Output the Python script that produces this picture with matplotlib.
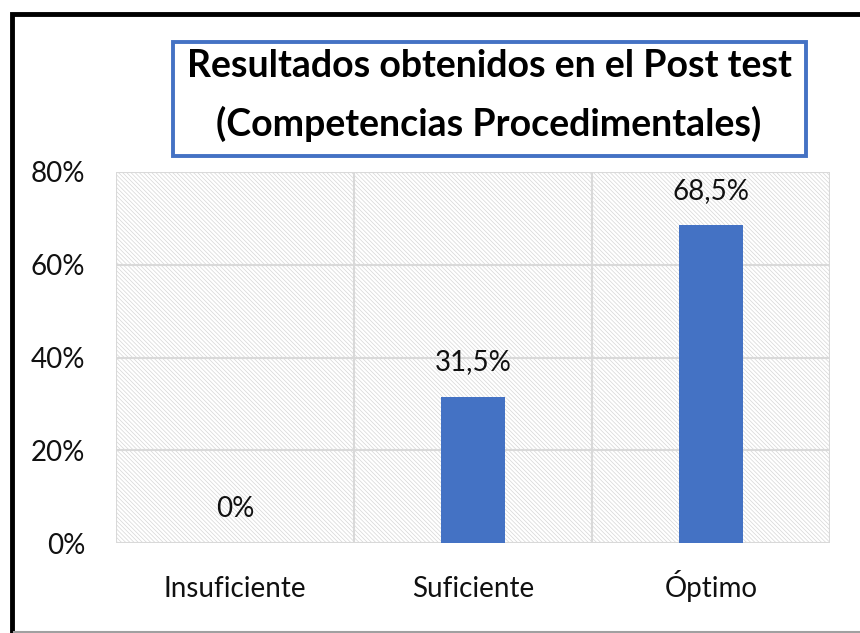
import matplotlib
matplotlib.use("Agg")
import matplotlib.pyplot as plt
from matplotlib.patches import Rectangle
import numpy as np

categories = ["Insuficiente", "Suficiente", "Óptimo"]
values = [0.0, 31.5, 68.5]
labels = ["0%", "31,5%", "68,5%"]
yticks = [0, 20, 40, 60, 80]
ytick_labels = ["0%", "20%", "40%", "60%", "80%"]
title_lines = ["Resultados obtenidos en el Post test", "(Competencias Procedimentales)"]

plt.rcParams['font.family'] = ['Lato', 'DejaVu Sans']
plt.rcParams['hatch.linewidth'] = 0.5

fig = plt.figure(figsize=(8.6, 6.33), dpi=100)
W, H = 860, 633

# outer black frame (left/top)
fig.add_artist(Rectangle((12/W, -0.1), 1.2, 1 - 14/H + 0.1, transform=fig.transFigure,
                         fill=False, edgecolor='black', linewidth=3.5))
fig.add_artist(plt.Line2D([14/W, 1], [1/H, 1/H], transform=fig.transFigure,
                          color='#a0a0a0', linewidth=1.5))

ax = fig.add_axes([116/W, 1 - 543/H, (830 - 116)/W, (543 - 172)/H])
x = np.arange(len(categories))
ax.set_xlim(-0.5, len(categories) - 0.5)
ax.set_ylim(0, 80)

# hatched plot area
ax.add_patch(Rectangle((0, 0), 1, 1, transform=ax.transAxes, facecolor='white',
                       edgecolor='#d6d6d6', hatch='\\\\\\\\\\\\\\\\', linewidth=0, zorder=0))

for yv in yticks:
    ax.axhline(yv, color='#d9d9d9', linewidth=1.5, zorder=1)
for xv in [-0.5, 0.5, 1.5, 2.5]:
    ax.axvline(xv, color='#d9d9d9', linewidth=1.5, zorder=1)

ax.bar(x, values, width=0.27, color='#4472c4', zorder=3)
for xi, v, lab in zip(x, values, labels):
    ax.annotate(lab, (xi, v), xytext=(0, 19), textcoords='offset points',
                ha='center', va='baseline', fontsize=20, color='#111111')

for s in ax.spines.values():
    s.set_visible(False)
ax.set_xticks(x)
ax.set_xticklabels(categories, fontsize=20, color='#111111')
for t in ax.get_xticklabels():
    t.set_va('baseline')
ax.set_yticks(yticks)
ax.set_yticklabels(ytick_labels, fontsize=20, color='#111111')
ax.tick_params(axis='x', length=0, pad=39)
ax.tick_params(axis='y', length=0, pad=22)

# title box
fig.add_artist(Rectangle((173/W, 1 - 156/H), (806 - 173)/W, (156 - 42)/H,
                         transform=fig.transFigure, facecolor='white',
                         edgecolor='#4472c4', linewidth=2.8))
fig.text(489/W, 1 - 66/H, title_lines[0], ha='center', va='center', fontsize=27,
         fontweight='bold', color='black')
fig.text(489/W, 1 - 124/H, title_lines[1], ha='center', va='center', fontsize=27,
         fontweight='bold', color='black')

fig.savefig("out.png", dpi=100)
